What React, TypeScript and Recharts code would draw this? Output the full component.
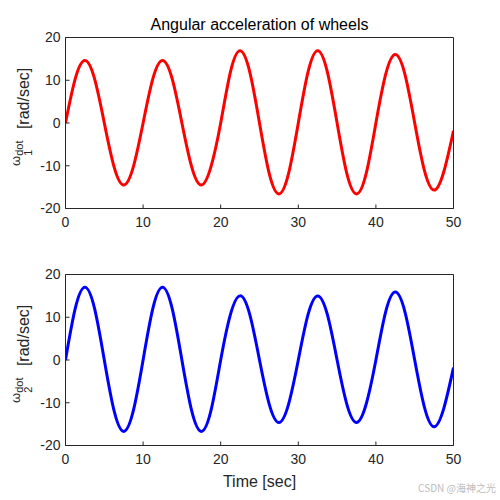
import React from "react";
import { LineChart, Line, XAxis, YAxis } from "recharts";

const timeSec = [
  0, 1.25, 2.5, 3.75, 5, 6.25, 7.5, 8.75, 10, 11.25, 12.5, 13.75, 15, 16.25, 17.5, 18.75,
  20, 21.25, 22.5, 23.75, 25, 26.25, 27.5, 28.75, 30, 31.25, 32.5, 33.75, 35, 36.25, 37.5, 38.75,
  40, 41.25, 42.5, 43.75, 45, 46.25, 47.5, 48.75, 50,
];

const omega1Dot = [
  0, 10.3, 14.6, 10.3, 0, -10.2, -14.5, -10.2, 0, 10.3, 14.6, 10.3, 0, -10.2, -14.5, -10.2,
  0, 11.9, 16.9, 11.9, 0, -11.8, -16.6, -11.8, 0, 11.9, 16.9, 11.9, 0, -11.8, -16.6, -11.8,
  0, 11.3, 16.0, 11.3, 0, -11.1, -15.7, -11.4, -1.8,
];

const omega2Dot = [
  0, 12.0, 17.0, 12.0, 0, -11.8, -16.7, -11.8, 0, 12.0, 17.0, 12.0, 0, -11.8, -16.7, -11.8,
  0, 10.6, 15.0, 10.6, 0, -10.3, -14.6, -10.3, 0, 10.6, 15.0, 10.6, 0, -10.3, -14.6, -10.3,
  0, 11.2, 15.9, 11.2, 0, -11.0, -15.6, -11.3, -1.8,
];

const xTicks = [0, 10, 20, 30, 40, 50];
const yTicks = [-20, -10, 0, 10, 20];

const titleText = "Angular acceleration of wheels";
const xLabelText = "Time [sec]";
const watermark = "CSDN @海神之光";

const data1 = timeSec.map((t, i) => ({ t, v: omega1Dot[i] }));
const data2 = timeSec.map((t, i) => ({ t, v: omega2Dot[i] }));

const AXIS = "#262626";
const FONT = "'Liberation Sans', Arial, Helvetica, sans-serif";
const tickStyle = { fontSize: 14, fill: AXIS, fontFamily: FONT };

function Panel({ data, color, top, height, plotTop, plotBottom }: any) {
  const margin = {
    top: plotTop - 10,
    right: 500 - 453.5 - 10,
    bottom: height - plotBottom - 30,
    left: 65.5 - 40,
  };
  return (
    <div style={{ position: "absolute", left: 0, top }}>
      <LineChart width={500} height={height} data={data} margin={margin}>
        <XAxis
          xAxisId="b"
          dataKey="t"
          type="number"
          domain={[0, 50]}
          ticks={xTicks}
          interval={0}
          height={30}
          tickSize={-4}
          tickMargin={13}
          stroke={AXIS}
          tick={tickStyle}
          allowDataOverflow
        />
        <XAxis
          xAxisId="t"
          orientation="top"
          type="number"
          domain={[0, 50]}
          ticks={xTicks}
          interval={0}
          height={10}
          tickSize={-4}
          tick={false}
          stroke={AXIS}
          allowDataOverflow
        />
        <YAxis
          yAxisId="l"
          type="number"
          domain={[-20, 20]}
          ticks={yTicks}
          interval={0}
          width={40}
          tickSize={-4}
          tickMargin={9}
          stroke={AXIS}
          tick={tickStyle}
          allowDataOverflow
        />
        <YAxis
          yAxisId="r"
          orientation="right"
          type="number"
          domain={[-20, 20]}
          ticks={yTicks}
          interval={0}
          width={10}
          tickSize={-4}
          tick={false}
          stroke={AXIS}
          allowDataOverflow
        />
        <Line
          xAxisId="b"
          yAxisId="l"
          dataKey="v"
          type="natural"
          stroke={color}
          strokeWidth={3}
          dot={false}
          activeDot={false}
          isAnimationActive={false}
        />
      </LineChart>
    </div>
  );
}

function YLabel({ x, y, sub }: { x: number; y: number; sub: string }) {
  return (
    <text
      transform={`translate(${x},${y}) rotate(-90)`}
      fontFamily={FONT}
      fill={AXIS}
      fontSize={16}
    >
      <tspan fontSize={13} dy={-9}>ω</tspan>
      <tspan fontSize={11} dy={12}>{sub}</tspan>
      <tspan fontSize={11} dx={-6.1} dy={-9}>dot</tspan>
      <tspan fontSize={16} dx={7} dy={6}>{" [rad/sec]"}</tspan>
    </text>
  );
}

export default function App() {
  return (
    <div
      style={{
        position: "absolute",
        left: 0,
        top: 0,
        width: 500,
        height: 500,
        background: "#fff",
      }}
    >
      <Panel data={data1} color="#ff0000" top={0} height={240} plotTop={37.5} plotBottom={208.5} />
      <Panel data={data2} color="#0000ff" top={240} height={260} plotTop={34.5} plotBottom={205.5} />
      <svg
        width={500}
        height={500}
        style={{ position: "absolute", left: 0, top: 0, pointerEvents: "none" }}
      >
        <text
          x={259.5}
          y={30}
          textAnchor="middle"
          fontFamily={FONT}
          fontSize={16}
          fill="#000"
        >
          {titleText}
        </text>
        <YLabel x={29} y={166} sub="1" />
        <YLabel x={29} y={403} sub="2" />
        <text
          x={259.5}
          y={487}
          textAnchor="middle"
          fontFamily={FONT}
          fontSize={16}
          fill={AXIS}
        >
          {xLabelText}
        </text>
        <text
          x={496}
          y={492}
          textAnchor="end"
          fontFamily="'Noto Sans CJK SC', sans-serif"
          fontSize={10}
          fill="#bdbdbd"
        >
          {watermark}
        </text>
      </svg>
    </div>
  );
}
